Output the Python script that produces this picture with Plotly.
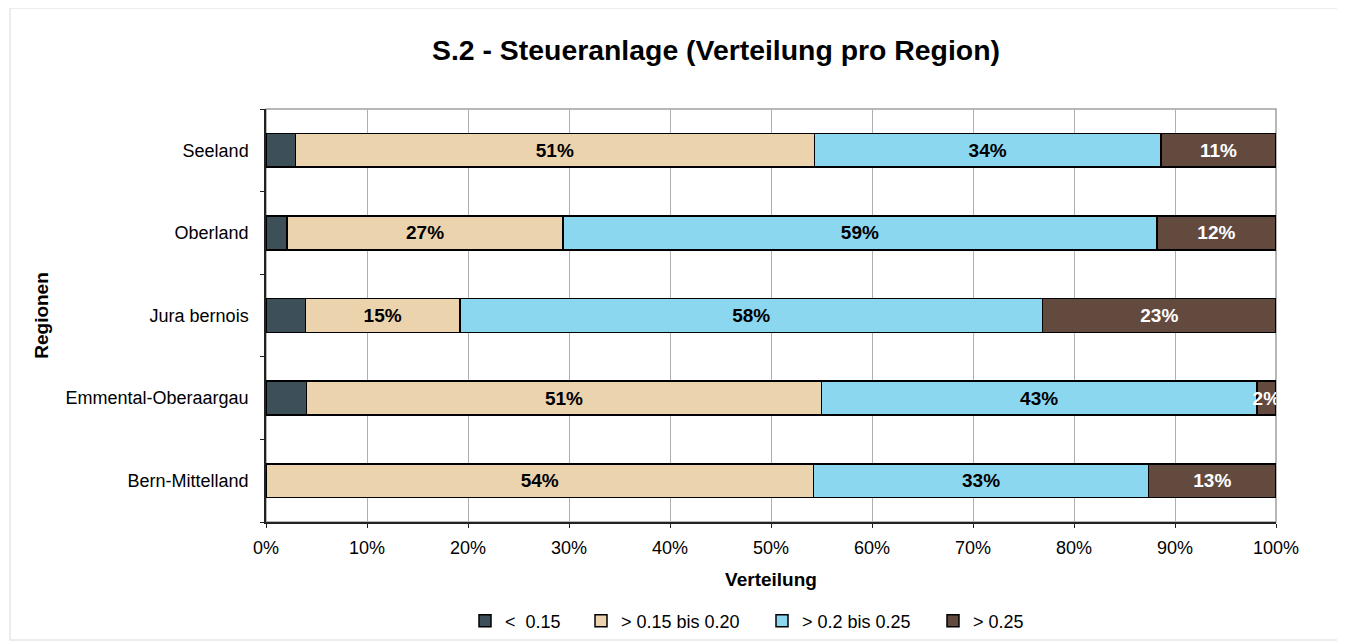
import plotly.graph_objects as go

regions = ["Bern-Mittelland", "Emmental-Oberaargau", "Jura bernois", "Oberland", "Seeland"]
series_names = ["<\u00a0\u00a00.15", "> 0.15 bis 0.20", "> 0.2 bis 0.25", "> 0.25"]
lt_015 = [0.0, 4.0, 3.9, 2.1, 2.9]
b015_020 = [54.2, 51.0, 15.3, 27.3, 51.4]
b020_025 = [33.2, 43.1, 57.7, 58.8, 34.3]
gt_025 = [12.6, 1.9, 23.1, 11.8, 11.4]
x_ticks = [0, 10, 20, 30, 40, 50, 60, 70, 80, 90, 100]
x_tick_labels = ["0%", "10%", "20%", "30%", "40%", "50%", "60%", "70%", "80%", "90%", "100%"]

colors = ["#3D4F58", "#EBD3AE", "#8CD7F0", "#634A3F"]
text_colors = [None, "black", "black", "white"]
series = [lt_015, b015_020, b020_025, gt_025]

# page is offset by the default 8px body margin
OFF = 8
W, H = 1345 - OFF, 644 - OFF
L, T = 266 - OFF, 109 - OFF
PR, PB = 1276 - OFF, 522 - OFF
R, B = W - PR, H - PB
pw, ph = PR - L, PB - T

def px(x):
    return (x - OFF - L) / pw

def py(y):
    return (PB - (y - OFF)) / ph

legend_text_x = [505, 621, 802, 973]
legend_names = ["legend", "legend2", "legend3", "legend4"]

FONT = "Liberation Sans, Arial, sans-serif"

fig = go.Figure()
for i, (name, vals) in enumerate(zip(series_names, series)):
    if i == 0:
        kw = dict(textposition="none")
    else:
        kw = dict(texttemplate="<b>%{x:.0f}%</b>", textposition="inside",
                  insidetextanchor="middle", textangle=0,
                  insidetextfont=dict(family=FONT, size=19, color=text_colors[i]))
    fig.add_trace(go.Bar(
        y=regions, x=vals, name=name, orientation="h", legend=legend_names[i],
        showlegend=True,
        marker=dict(color=colors[i], line=dict(color="black", width=1.5)),
        hoverinfo="x+name", **kw))

legends = {}
for i, ln in enumerate(legend_names):
    legends[ln] = dict(orientation="h", x=px(legend_text_x[i] - 40), xanchor="left",
                       y=py(621), yanchor="middle", font=dict(size=18, family=FONT),
                       bgcolor="rgba(0,0,0,0)", itemclick=False, itemdoubleclick=False)

fig.update_layout(
    width=W, height=H, showlegend=True,
    barmode="stack", bargap=0.59,
    paper_bgcolor="white", plot_bgcolor="white",
    margin=dict(l=L, r=R, t=T, b=B, autoexpand=False),
    font=dict(family=FONT, size=18, color="black"),
    uniformtext=dict(minsize=19, mode="show"),
    title=dict(text="<b>S.2 - Steueranlage (Verteilung pro Region)</b>",
               x=(716 - OFF) / W, xanchor="center", xref="container",
               y=1 - (50 - OFF) / H, yanchor="middle", yref="container",
               font=dict(size=28.4, family=FONT, color="black")),
    xaxis=dict(range=[0, 100], tickvals=x_ticks, ticktext=x_tick_labels,
               showgrid=True, gridcolor="#B0B0B0", gridwidth=1,
               showline=True, linecolor="#222222", linewidth=1.5,
               ticks="outside", ticklen=4, tickcolor="#222222",
               ticklabelstandoff=5,
               zeroline=False, fixedrange=True,
               title=dict(text="<b>Verteilung</b>", standoff=15,
                          font=dict(size=19, family=FONT))),
    yaxis=dict(type="category", categoryorder="array", categoryarray=regions,
               showgrid=False, showline=True, linecolor="#222222", linewidth=1.5,
               ticks="outside", ticklen=4, tickcolor="#222222",
               tickson="boundaries", zeroline=False, fixedrange=True,
               ticklabelstandoff=12,
               title=dict(text="<b>Regionen</b>", standoff=12,
                          font=dict(size=19, family=FONT))),
    shapes=[
        dict(type="rect", xref="paper", yref="paper", x0=0, x1=1, y0=0, y1=1,
             line=dict(color="#A0A0A0", width=1.5), layer="below"),
        dict(type="rect", xref="paper", yref="paper",
             x0=px(10), x1=px(1339), y0=py(640), y1=py(8),
             line=dict(color="#E6E6E6", width=1.5), layer="below"),
    ],
    **legends,
)

fig.write_html("out.html")
